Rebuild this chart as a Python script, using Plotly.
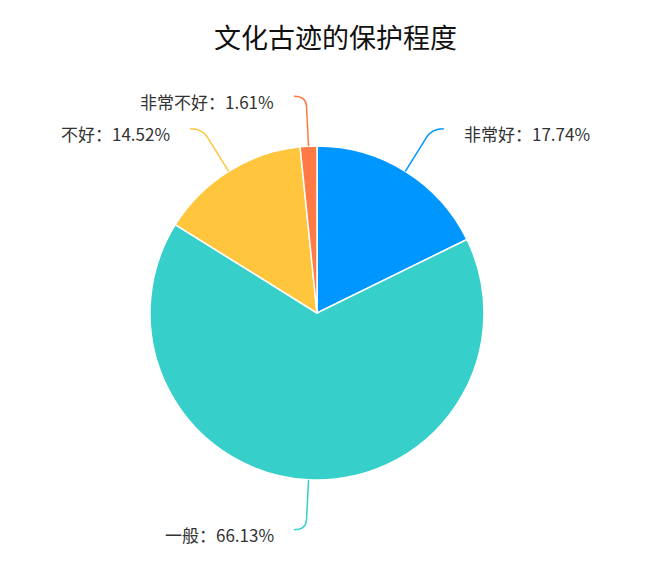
import math
import plotly.graph_objects as go

# 数据：文化古迹的保护程度（人数）
labels = ["非常好", "一般", "不好", "非常不好"]
counts = [11, 41, 9, 1]
colors = ["#0096FF", "#36CFC9", "#FFC53D", "#FF7A45"]

W, H = 651, 568
off = 8  # page body margin
cx, cy, r = 317 - off, 313 - off, 167  # pie centre / radius in px (y down)

fig = go.Figure(go.Pie(
    labels=labels,
    values=counts,
    sort=False,
    direction="clockwise",
    rotation=0,
    textinfo="none",
    hoverinfo="label+percent",
    marker=dict(colors=colors, line=dict(color="white", width=1.5)),
    domain=dict(x=[(cx - r) / W, (cx + r) / W],
                y=[(H - cy - r) / H, (H - cy + r) / H]),
    showlegend=False,
))

# leader lines + labels, angles taken from the data
total = sum(counts)
start = 0.0
len1, len2, gap = 50, 12, 18
shapes, annotations = [], []


def to_paper(x, y):
    return x / W, 1 - y / H


for lab, val, col in zip(labels, counts, colors):
    share = val / total
    mid = (start + share / 2) * 2 * math.pi
    start += share
    sx, sy = math.sin(mid), -math.cos(mid)
    side = 1 if sx >= 0 else -1
    p0 = (cx + r * sx, cy + r * sy)
    p1 = (cx + (r + len1) * sx, cy + (r + len1) * sy)
    p2 = (p1[0] + side * len2, p1[1])
    # small rounding near the elbow
    pa = (cx + (r + len1 - 10) * sx, cy + (r + len1 - 10) * sy)
    q0, qa, q1, q2 = [to_paper(*p) for p in (p0, pa, p1, p2)]
    path = (f"M {q0[0]},{q0[1]} L {qa[0]},{qa[1]} "
            f"Q {q1[0]},{q1[1]} {q2[0]},{q2[1]}")
    shapes.append(dict(type="path", path=path, xref="paper", yref="paper",
                       line=dict(color=col, width=1.5)))
    tx, ty = to_paper(p2[0] + side * gap, p2[1] + 5)
    annotations.append(dict(
        x=tx, y=ty, xref="paper", yref="paper", showarrow=False,
        xanchor="left" if side > 0 else "right", yanchor="middle",
        text=f"{lab}：{share * 100:.2f}%",
        font=dict(size=17, color="#333333"),
    ))

fig.update_layout(
    width=W, height=H,
    margin=dict(l=0, r=0, t=0, b=0),
    paper_bgcolor="white",
    font=dict(family="Noto Sans CJK SC, sans-serif"),
    title=dict(text="文化古迹的保护程度", x=(335.5 - off) / W,
               y=(H - 39 + off) / H,
               xanchor="center", yanchor="middle",
               font=dict(size=27, color="#111111")),
    shapes=shapes,
    annotations=annotations,
)

fig.write_html("out.html")
